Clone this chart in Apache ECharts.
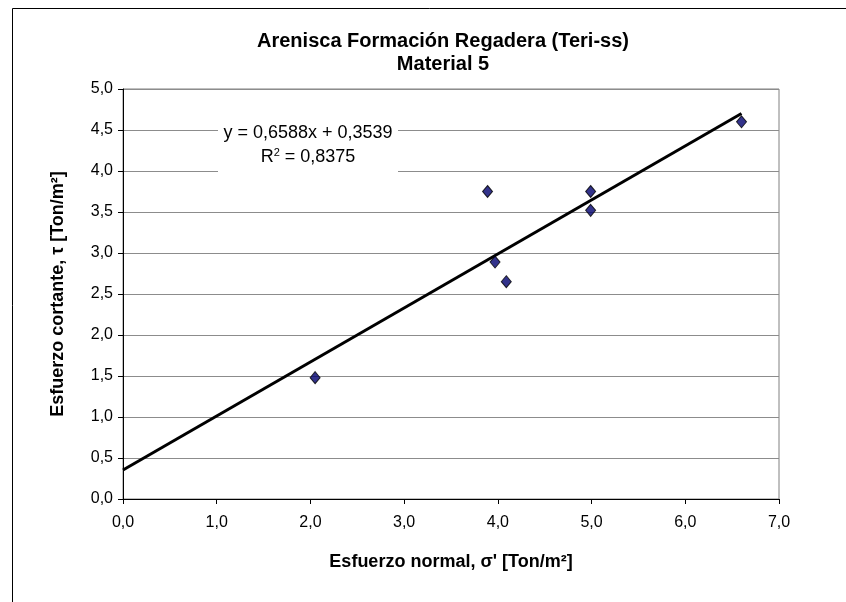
<!DOCTYPE html>
<html>
<head>
<meta charset="utf-8">
<title>Material 5</title>
<script src="https://cdn.jsdelivr.net/npm/echarts@6/dist/echarts.min.js"></script>
</head>
<body style="margin:0;background:#fff">
<div id="main" style="width:846px;height:602px"></div>
<script>
// ensayos de corte: esfuerzo normal vs esfuerzo cortante
var sigma = [2.05, 3.89, 3.97, 4.09, 4.99, 4.99, 6.60];
var tau   = [1.48, 3.75, 2.89, 2.65, 3.75, 3.52, 4.60];
// extremos de la linea de tendencia
var trendX = [0.0, 6.60];
var trendY = [0.354, 4.702];
var eqText = 'y = 0,6588x + 0,3539';
var r2Text = '0,8375';

var fmt = function (v) { return v.toFixed(1).replace('.', ','); };
var font = 'Liberation Sans, Arial, sans-serif';

var chart = echarts.init(document.getElementById('main'));
var points = sigma.map(function (x, i) { return [x, tau[i]]; });
var trend = trendX.map(function (x, i) { return [x, trendY[i]]; });

chart.setOption({
  animation: false,
  backgroundColor: '#fff',
  title: {
    text: 'Arenisca Formación Regadera (Teri-ss)\nMaterial 5',
    left: 438, top: 25, textAlign: 'center',
    textStyle: { fontFamily: font, fontSize: 20, fontWeight: 'bold', color: '#000', lineHeight: 23 }
  },
  grid: {
    left: 123, right: 67, top: 89, bottom: 103,
    show: true, borderColor: '#808080', borderWidth: 1
  },
  xAxis: {
    type: 'value', min: 0, max: 7, interval: 1,
    name: "Esfuerzo normal, σ' [Ton/m²]",
    nameLocation: 'middle', nameGap: 54,
    nameTextStyle: { fontFamily: font, fontSize: 18, fontWeight: 'bold', color: '#000' },
    axisLine: { show: true, lineStyle: { color: '#000', width: 1 } },
    axisTick: { show: true, inside: false, length: 5, lineStyle: { color: '#000' } },
    axisLabel: { formatter: fmt, margin: 16, fontFamily: font, fontSize: 16, color: '#000' },
    splitLine: { show: false }
  },
  yAxis: {
    type: 'value', min: 0, max: 5, interval: 0.5,
    name: 'Esfuerzo cortante, τ [Ton/m²]',
    nameLocation: 'middle', nameGap: 56,
    nameTextStyle: { fontFamily: font, fontSize: 18, fontWeight: 'bold', color: '#000' },
    axisLine: { show: true, lineStyle: { color: '#000', width: 1 } },
    axisTick: { show: true, inside: false, length: 5, lineStyle: { color: '#000' } },
    axisLabel: { formatter: fmt, margin: 10, fontFamily: font, fontSize: 16, color: '#000' },
    splitLine: { show: true, lineStyle: { color: '#8c8c8c', width: 1 } }
  },
  series: [
    {
      type: 'line', data: trend, symbol: 'none', silent: true,
      lineStyle: { color: '#000', width: 3 }, z: 3
    },
    {
      type: 'scatter', data: points, symbol: 'diamond', symbolSize: [10, 12],
      itemStyle: { color: '#00006e', borderColor: '#000', borderWidth: 1 }, z: 4
    }
  ],
  graphic: [
    {
      type: 'rect', z: 10, silent: true,
      shape: { x: 218, y: 118, width: 180, height: 58 },
      style: { fill: '#fff' }
    },
    {
      type: 'text', z: 11, silent: true, x: 308, y: 124,
      style: { text: eqText, textAlign: 'center', fontFamily: font, fontSize: 18, fill: '#000' }
    },
    {
      type: 'text', z: 11, silent: true, x: 308, y: 147,
      style: { text: '{r|R}{s|2}{r| = ' + r2Text + '}', textAlign: 'center', fill: '#000',
        rich: { r: { fontFamily: font, fontSize: 18, verticalAlign: 'bottom' },
                s: { fontFamily: font, fontSize: 11, verticalAlign: 'top', padding: [0, 0, 8, 0] } } }
    },
    {
      type: 'rect', silent: true, z: 0,
      shape: { x: 12.5, y: 8.5, width: 860, height: 620 },
      style: { fill: 'none', stroke: '#000', lineWidth: 1 }
    }
  ]
});
</script>
</body>
</html>
